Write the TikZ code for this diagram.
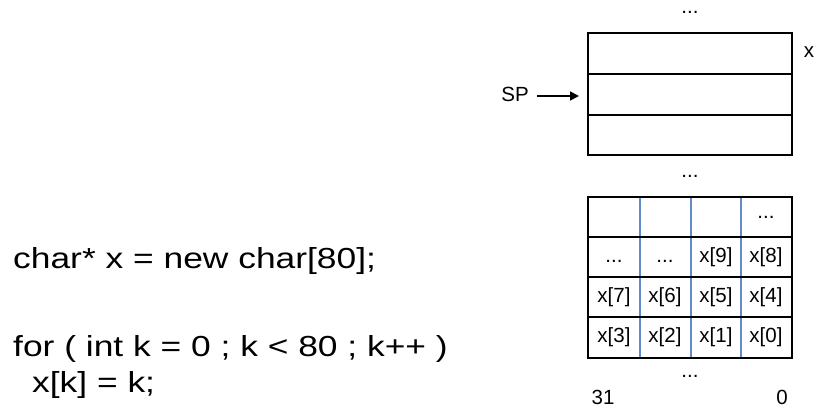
\documentclass[tikz,border=0pt]{standalone}
\usepackage{fontspec}
\setmainfont{Liberation Sans}
\usetikzlibrary{arrows.meta}
\definecolor{gridblue}{RGB}{95,140,200}
\begin{document}
\begin{tikzpicture}[x=1pt,y=-1pt,
  codetext/.style={anchor=base west,inner sep=0pt,font=\fontsize{29}{34}\selectfont},
  cell/.style={inner sep=0pt,text height=14pt,text depth=4pt,font=\fontsize{20.5}{24}\selectfont},
  lbl/.style={inner sep=0pt,text height=14pt,text depth=4pt,font=\fontsize{20.5}{24}\selectfont},
  dots/.style={inner sep=0pt,anchor=base,font=\fontsize{20.5}{24}\selectfont},
  boxline/.style={line width=1.6pt,black},
  blueline/.style={line width=1.1pt,gridblue}]
\useasboundingbox (0,0) rectangle (817,413);
% code
\node[codetext] (c1) at (13,268) {\scalebox{1.22}[1]{char* x = new char[80];}};
\node[codetext] (c2) at (13,356) {\scalebox{1.22}[1]{for ( int k = 0 ; k < 80 ; k++ )}};
\node[codetext] (c3) at (32,392) {\scalebox{1.22}[1]{x[k] = k;}};
% top stack box
\draw[boxline] (588,33) rectangle (792,155);
\draw[boxline] (588,74) -- (792,74);
\draw[boxline] (588,115) -- (792,115);
\coordinate (stackin) at (579,96);
\node[dots] (dtop) at (690,13.5) {...};
\node[lbl] (dmid) at (690,172) {...};
\node[lbl] (xl) at (809,52) {x};
\node[lbl,anchor=east] (sp) at (529,96) {SP};
\draw[line width=1.6pt,-{Triangle[length=9pt,width=9pt]}] (sp.east) ++(8,0) -- (stackin);
% bottom grid
\foreach \xx in {640,691,741} \draw[blueline] (\xx,197) -- (\xx,358);
\foreach \yy in {237,277,317} \draw[boxline] (588,\yy) -- (792,\yy);
\draw[boxline] (588,197) rectangle (792,358);
\node[cell] (r0c3) at (766,213) {...};
\node[cell] (r1c0) at (614,257) {...};
\node[cell] (r1c1) at (665,257) {...};
\node[cell] (r1c2) at (716,257) {x[9]};
\node[cell] (r1c3) at (766,257) {x[8]};
\node[cell] (r2c0) at (614,297) {x[7]};
\node[cell] (r2c1) at (665,297) {x[6]};
\node[cell] (r2c2) at (716,297) {x[5]};
\node[cell] (r2c3) at (766,297) {x[4]};
\node[cell] (r3c0) at (614,337) {x[3]};
\node[cell] (r3c1) at (665,337) {x[2]};
\node[cell] (r3c2) at (716,337) {x[1]};
\node[cell] (r3c3) at (766,337) {x[0]};
\node[lbl] (dbot) at (690,372) {...};
\node[lbl] (b31) at (603,399) {31};
\node[lbl] (b0) at (782,399) {0};
\end{tikzpicture}
\end{document}
